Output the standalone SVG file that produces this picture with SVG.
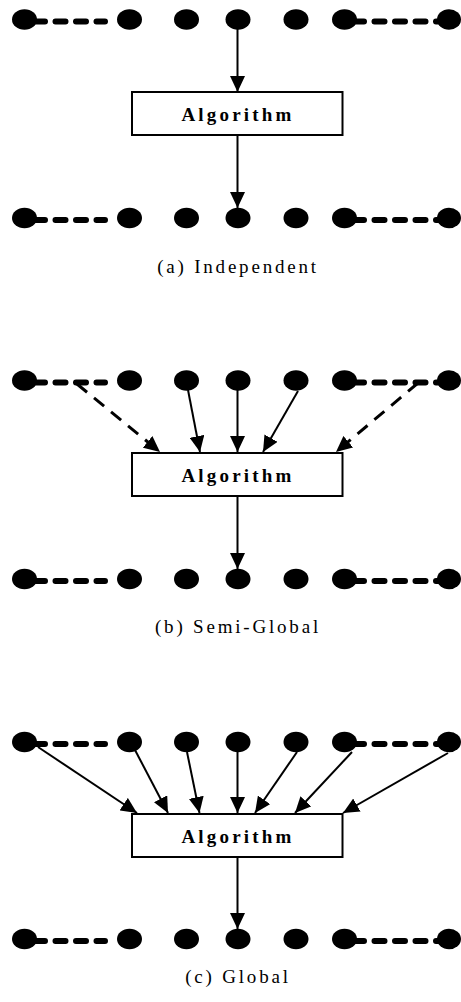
<svg xmlns="http://www.w3.org/2000/svg" width="461" height="1002" viewBox="0 0 461 1002">
<style>
.dot{fill:#000}
.box{fill:#fff;stroke:#000;stroke-width:2}
.alg{font-family:"Liberation Serif","Times New Roman",serif;font-weight:bold;font-size:19px;letter-spacing:3.2px;fill:#000}
.cap{font-family:"Liberation Serif","Times New Roman",serif;font-size:19px;letter-spacing:2.8px;fill:#000}
.ell{fill:none;stroke:#000;stroke-width:6;stroke-linecap:round;stroke-dasharray:10 10.5}
.arr{fill:none;stroke:#000;stroke-width:2;marker-end:url(#ah)}
.darr{fill:none;stroke:#000;stroke-width:3;stroke-dasharray:13 9;marker-end:url(#ah)}
</style>
<defs>
<marker id="ah" markerUnits="userSpaceOnUse" markerWidth="16" markerHeight="15" refX="16" refY="7.5" orient="auto" viewBox="0 0 16 15">
<path d="M0,0 L16,7.5 L0,15 Z" fill="#000"/>
</marker>
</defs>

<!-- Panel (a) -->
<g id="a-top">
<ellipse class="dot" cx="24.5" cy="19.5" rx="12.5" ry="10.3"/>
<ellipse class="dot" cx="129.5" cy="19.5" rx="12.5" ry="10.3"/>
<ellipse class="dot" cx="186.5" cy="19.5" rx="12.5" ry="10.3"/>
<ellipse class="dot" cx="238" cy="19.5" rx="12.5" ry="10.3"/>
<ellipse class="dot" cx="296" cy="19.5" rx="12.5" ry="10.3"/>
<ellipse class="dot" cx="344.5" cy="19.5" rx="12.5" ry="10.3"/>
<ellipse class="dot" cx="449" cy="19.5" rx="12" ry="10.3"/>
</g>
<g id="a-alg">
<rect class="box" x="132" y="92" width="210.5" height="43"/>
<text class="alg" x="238" y="120.5" text-anchor="middle">Algorithm</text>
</g>
<g id="a-bottom">
<ellipse class="dot" cx="24.5" cy="218" rx="12.5" ry="10.3"/>
<ellipse class="dot" cx="129.5" cy="218" rx="12.5" ry="10.3"/>
<ellipse class="dot" cx="186.5" cy="218" rx="12.5" ry="10.3"/>
<ellipse class="dot" cx="238" cy="218" rx="12.5" ry="10.3"/>
<ellipse class="dot" cx="296" cy="218" rx="12.5" ry="10.3"/>
<ellipse class="dot" cx="344.5" cy="218" rx="12.5" ry="10.3"/>
<ellipse class="dot" cx="449" cy="218" rx="12" ry="10.3"/>
</g>
<g id="a-caption"><text class="cap" x="238" y="273" text-anchor="middle">(a) Independent</text></g>

<!-- Panel (b) -->
<g id="b-top">
<ellipse class="dot" cx="24.5" cy="380.5" rx="12.5" ry="10.3"/>
<ellipse class="dot" cx="129.5" cy="380.5" rx="12.5" ry="10.3"/>
<ellipse class="dot" cx="186.5" cy="380.5" rx="12.5" ry="10.3"/>
<ellipse class="dot" cx="238" cy="380.5" rx="12.5" ry="10.3"/>
<ellipse class="dot" cx="296" cy="380.5" rx="12.5" ry="10.3"/>
<ellipse class="dot" cx="344.5" cy="380.5" rx="12.5" ry="10.3"/>
<ellipse class="dot" cx="449" cy="380.5" rx="12" ry="10.3"/>
</g>
<g id="b-alg">
<rect class="box" x="132" y="453" width="210.5" height="43"/>
<text class="alg" x="238" y="481.5" text-anchor="middle">Algorithm</text>
</g>
<g id="b-bottom">
<ellipse class="dot" cx="24.5" cy="579" rx="12.5" ry="10.3"/>
<ellipse class="dot" cx="129.5" cy="579" rx="12.5" ry="10.3"/>
<ellipse class="dot" cx="186.5" cy="579" rx="12.5" ry="10.3"/>
<ellipse class="dot" cx="238" cy="579" rx="12.5" ry="10.3"/>
<ellipse class="dot" cx="296" cy="579" rx="12.5" ry="10.3"/>
<ellipse class="dot" cx="344.5" cy="579" rx="12.5" ry="10.3"/>
<ellipse class="dot" cx="449" cy="579" rx="12" ry="10.3"/>
</g>
<g id="b-caption"><text class="cap" x="238" y="633" text-anchor="middle">(b) Semi-Global</text></g>

<!-- Panel (c) -->
<g id="c-top">
<ellipse class="dot" cx="24.5" cy="742" rx="12.5" ry="10.3"/>
<ellipse class="dot" cx="129.5" cy="742" rx="12.5" ry="10.3"/>
<ellipse class="dot" cx="186.5" cy="742" rx="12.5" ry="10.3"/>
<ellipse class="dot" cx="238" cy="742" rx="12.5" ry="10.3"/>
<ellipse class="dot" cx="296" cy="742" rx="12.5" ry="10.3"/>
<ellipse class="dot" cx="344.5" cy="742" rx="12.5" ry="10.3"/>
<ellipse class="dot" cx="449" cy="742" rx="12" ry="10.3"/>
</g>
<g id="c-alg">
<rect class="box" x="132" y="814" width="210.5" height="43"/>
<text class="alg" x="238" y="842.5" text-anchor="middle">Algorithm</text>
</g>
<g id="c-bottom">
<ellipse class="dot" cx="24.5" cy="939" rx="12.5" ry="10.3"/>
<ellipse class="dot" cx="129.5" cy="939" rx="12.5" ry="10.3"/>
<ellipse class="dot" cx="186.5" cy="939" rx="12.5" ry="10.3"/>
<ellipse class="dot" cx="238" cy="939" rx="12.5" ry="10.3"/>
<ellipse class="dot" cx="296" cy="939" rx="12.5" ry="10.3"/>
<ellipse class="dot" cx="344.5" cy="939" rx="12.5" ry="10.3"/>
<ellipse class="dot" cx="449" cy="939" rx="12" ry="10.3"/>
</g>
<g id="c-caption"><text class="cap" x="238" y="983" text-anchor="middle">(c) Global</text></g>

<g id="connectors">
<!-- dotted continuations -->
<path class="ell" d="M35,21.5 H105 M354,21.5 H440"/>
<path class="ell" d="M35,220 H105 M354,220 H440"/>
<path class="ell" d="M35,382.5 H105 M354,382.5 H440"/>
<path class="ell" d="M35,581 H105 M354,581 H440"/>
<path class="ell" d="M35,744 H105 M354,744 H440"/>
<path class="ell" d="M35,941 H105 M354,941 H440"/>
<!-- (a) -->
<path class="arr" d="M237.5,29 V92"/>
<path class="arr" d="M237.5,135 V208"/>
<!-- (b) -->
<path class="darr" d="M77,384 L160,452"/>
<path class="arr" d="M188,390 L200,452"/>
<path class="arr" d="M237.5,390 V452"/>
<path class="arr" d="M298,391 L263,452"/>
<path class="darr" d="M418,383 L336,452"/>
<path class="arr" d="M237.5,496 V569"/>
<!-- (c) -->
<path class="arr" d="M38,747 L137,813"/>
<path class="arr" d="M135,750 L168,813"/>
<path class="arr" d="M187,752 L199.5,813"/>
<path class="arr" d="M237.5,752 V813"/>
<path class="arr" d="M297,752 L255,813"/>
<path class="arr" d="M352,752 L295,813"/>
<path class="arr" d="M448,753 L343,813"/>
<path class="arr" d="M237.5,857 V929"/>
</g>
</svg>
